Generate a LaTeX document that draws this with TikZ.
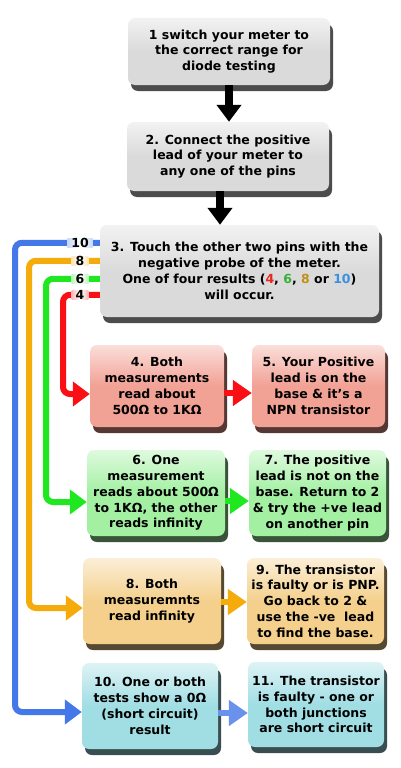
\documentclass[tikz,border=0pt]{standalone}
\usepackage{fontspec}
\setmainfont{DejaVu Sans}
\usetikzlibrary{arrows.meta,shadows}
\definecolor{gbox}{HTML}{DADADA}
\definecolor{rbox}{HTML}{F2A195}
\definecolor{grbox}{HTML}{A3F0A3}
\definecolor{obox}{HTML}{F4D08C}
\definecolor{bbox}{HTML}{A0DEE4}
\definecolor{rline}{HTML}{FA0F14}
\definecolor{gline}{HTML}{20E820}
\definecolor{oline}{HTML}{F5AC0A}
\definecolor{bline}{HTML}{4477E8}
\definecolor{bline2}{HTML}{6A92EC}
\definecolor{nred}{HTML}{E8281E}
\definecolor{ngreen}{HTML}{38B038}
\definecolor{nyel}{HTML}{C09018}
\definecolor{nblue}{HTML}{3A90E0}
\begin{document}
\begin{tikzpicture}[x=1pt,y=-1pt,
  box/.style={draw=none, rounded corners=7pt, align=center, inner sep=0pt,
    font=\fontsize{12.5}{15.8}\selectfont\bfseries,
    top color=#1!35!white, bottom color=#1, middle color=#1,
    general shadow={fill=#1!35!black, shadow xshift=3pt, shadow yshift=-6pt}},
  sz/.style 2 args={minimum width=#1pt, minimum height=#2pt},
  blk/.style={line width=8pt, draw=black, -{Triangle[length=17pt,width=24pt]}},
  conn/.style={line width=6pt, draw=#1, rounded corners=7pt, -{Triangle[length=17pt,width=24pt]}},
  link/.style={line width=6pt, draw=#1, -{Triangle[length=19pt,width=25pt]}},
  lbl/.style={font=\fontsize{12.5}{12.5}\selectfont\bfseries, inner xsep=4pt, inner ysep=0pt,
    minimum height=9pt, left color=#1!30!white, right color=#1!30!white, middle color=white}]
\useasboundingbox (0,0) rectangle (400,768);
\fill[white] (0,0) rectangle (400,768);

% boxes
\node[box=gbox, sz={202}{67}] (b1) at (229,51.5) {1 switch your meter to\\the correct range for\\diode testing};
\node[box=gbox, sz={202}{69}] (b2) at (228,156.5) {2. Connect the positive\\lead of your meter to\\any one of the pins};
\node[box=gbox, sz={279}{92}] (b3) at (239.5,271) {3. Touch the other two pins with the\\negative probe of the meter.\\One of four results (\textcolor{nred}{4}, \textcolor{ngreen}{6}, \textcolor{nyel}{8} or \textcolor{nblue}{10})\\will occur.};
\node[box=rbox, sz={134}{82}] (b4) at (157,386) {4. Both\\measurements\\read about\\500Ω to 1KΩ};
\node[box=rbox, sz={133}{82}] (b5) at (318.5,386) {5. Your Positive\\lead is on the\\base \& it’s a\\NPN transistor};
\node[box=grbox, sz={138}{86}] (b6) at (156,493) {6. One\\measurement\\reads about 500Ω\\to 1KΩ, the other\\reads infinity};
\node[box=grbox, sz={137}{86}] (b7) at (317.5,493) {7. The positive\\lead is not on the\\base. Return to 2\\\& try the +ve lead\\on another pin};
\node[box=obox, sz={138}{86}] (b8) at (152,601) {8. Both\\measuremnts\\read infinity};
\node[box=obox, sz={137}{86}] (b9) at (315.5,601) {9. The transistor\\is faulty or is PNP.\\Go back to 2 \&\\use the -ve~ lead\\to find the base.};
\node[box=bbox, sz={136}{86}] (b10) at (150,706) {10. One or both\\tests show a 0Ω\\(short circuit)\\result};
\node[box=bbox, sz={136}{85}] (b11) at (316,704.5) {11. The transistor\\is faulty - one or\\both junctions\\are short circuit};

% black arrows
\draw[blk] (b1.south) -- (b1.south |- b2.north);
\draw[blk] ([xshift=-8pt]b2.south) -- ([xshift=-8pt]b2.south |- b3.north);

% coloured connectors
\coordinate (s10) at ([yshift=-18pt]b3.north west);
\coordinate (s8) at ([yshift=-36pt]b3.north west);
\coordinate (s6) at ([yshift=-54pt]b3.north west);
\coordinate (s4) at ([yshift=-70pt]b3.north west);
\coordinate (c10) at (15,712);
\coordinate (c8) at (29,608);
\coordinate (c6) at (46,502);
\coordinate (c4) at (63,394);
\draw[conn=bline] (s10) -| (c10) -- (c10 -| b10.west);
\draw[conn=oline] (s8) -| (c8) -- (c8 -| b8.west);
\draw[conn=gline] (s6) -| (c6) -- (c6 -| b6.west);
\draw[conn=rline] (s4) -| (c4) -- (c4 -| b4.west);
\node[lbl=bline] (t10) at (80,243) {10};
\node[lbl=oline] (t8) at (80,261) {8};
\node[lbl=gline] (t6) at (80,279) {6};
\node[lbl=rline] (t4) at (80,295) {4};

% box to box arrows
\draw[link=rline] ([yshift=-7pt]b4.east) -- ([yshift=-7pt]b4.east -| b5.west);
\draw[link=gline] ([yshift=-8pt]b6.east) -- ([yshift=-8pt]b6.east -| b7.west);
\draw[link=oline] ([yshift=-1pt]b8.east) -- ([yshift=-1pt]b8.east -| b9.west);
\draw[link=bline2] ([yshift=-7pt]b10.east) -- ([yshift=-7pt]b10.east -| b11.west);
\end{tikzpicture}
\end{document}
